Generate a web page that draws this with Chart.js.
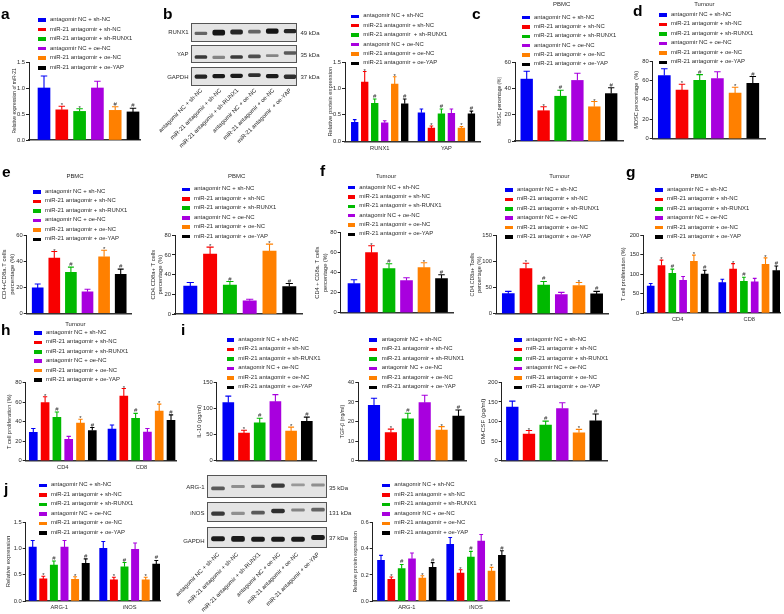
<!DOCTYPE html>
<html>
<head>
<meta charset="utf-8">
<title>miR-21 antagomir panels</title>
<script src="https://cdn.jsdelivr.net/npm/chart.js@4"></script>
<style>
  html, body { margin: 0; background: #fff; }
  #page { position: relative; width: 784px; height: 614px; overflow: hidden; filter: blur(0.45px); font-family: "Liberation Sans", Arial, sans-serif; color: #2a2a2a; }
  #page canvas { position: absolute; }
  .txt { position: absolute; white-space: pre; line-height: 1; }
  .swatch { position: absolute; }
  .blot-row { position: absolute; box-sizing: border-box; border: 1.4px solid #555; background: #e4e4e4; overflow: hidden; }
  .blot-row canvas { left: 0; top: 0; filter: blur(0.7px); }
</style>
</head>
<body>
<div id="page"></div>
<script>
/* ---------- shared labels and colours ---------- */
const seriesNames = ["antagomir NC + sh-NC", "miR-21 antagomir + sh-NC", "miR-21 antagomir + sh-RUNX1", "antagomir NC + oe-NC", "miR-21 antagomir + oe-NC", "miR-21 antagomir + oe-YAP"];
const seriesNamesB = ["antagomir NC + sh-NC", "miR-21 antagomir + sh-NC", "miR-21 antagomir  + sh-RUNX1", "antagomir NC + oe-NC", "miR-21 antagomir + oe-NC", "miR-21 antagomir + oe-YAP"];
const blotLanesB = ["antagomir NC + sh-NC", "miR-21 antagomir + sh-NC", "miR-21 antagomir + sh-RUNX1", "antagomir NC + oe-NC", "miR-21 antagomir + oe-NC", "miR-21 antagomir  + oe-YAP"];
const seriesColors = ["#0000f5", "#f80000", "#00b900", "#a800de", "#ff8000", "#000000"];
const marksA = ["", "*", "*", "", "#", "#"];
const marks = ["", "*", "#", "", "*", "#"];

/* ---------- values, one array per group ---------- */
const aValues = [[1.0, 0.58, 0.55, 1.0, 0.57, 0.54]];
const aErrors = [[1.23, 0.65, 0.60, 1.13, 0.64, 0.61]];
const aTicks = ["0.0", "0.5", "1.0", "1.5"];

const bCats = ["RUNX1", "YAP"];
const bValues = [[0.36, 1.12, 0.72, 0.35, 1.08, 0.71], [0.54, 0.25, 0.52, 0.53, 0.25, 0.52]];
const bErrors = [[0.41, 1.32, 0.80, 0.39, 1.22, 0.80], [0.61, 0.29, 0.61, 0.61, 0.28, 0.57]];
const bTicks = ["0.0", "0.5", "1.0", "1.5"];

const cValues = [[47, 23, 34, 46, 26, 36]];
const cErrors = [[53, 26, 38.5, 51.5, 30, 40.5]];
const cTicks = ["0", "20", "40", "60"];

const dValues = [[65, 50, 60, 62, 47, 57]];
const dErrors = [[72, 56, 66, 69, 53, 64]];
const dTicks = ["0", "20", "40", "60", "80"];

const e1Values = [[19.5, 42.5, 31.5, 16.5, 43.5, 30]];
const e1Errors = [[22.5, 47.5, 35.5, 18.5, 48.5, 34]];
const e1Ticks = ["0", "20", "40", "60"];

const e2Values = [[28.5, 61, 29.5, 13.5, 64, 28]];
const e2Errors = [[32, 68, 33, 15, 71, 31]];
const e2Ticks = ["0", "20", "40", "60", "80"];

const f1Values = [[29, 60, 44, 32, 45, 34]];
const f1Errors = [[33, 67, 49, 35, 50, 38]];
const f1Ticks = ["0", "20", "40", "60", "80"];

const f2Values = [[38.5, 87, 55, 37, 54, 38]];
const f2Errors = [[43, 97, 62, 41, 60, 43]];
const f2Ticks = ["0", "50", "100", "150"];

const gCats = ["CD4", "CD8"];
const gValues = [[69.5, 122, 102, 84, 133, 100], [78, 113, 81.5, 80, 125, 109]];
const gErrors = [[76, 136, 113, 94, 149, 110], [87, 127, 92, 89, 142, 121]];
const gTicks = ["0", "50", "100", "150", "200"];

const hCats = ["CD4", "CD8"];
const hValues = [[29, 59.5, 44.5, 22, 38.5, 31], [32.5, 66.3, 43.4, 29.4, 51, 41.4]];
const hErrors = [[33, 65.6, 50, 25, 42.5, 34], [36.6, 74, 48.5, 33, 58, 47]];
const hTicks = ["0", "20", "40", "60", "80"];

const i1Values = [[110.6, 52.8, 72, 112.5, 56.6, 75]];
const i1Errors = [[123, 58, 81, 126, 64, 83]];
const i1Ticks = ["0", "50", "100", "150"];

const i2Values = [[28.3, 14.4, 21.3, 29.6, 15.6, 22.8]];
const i2Errors = [[31.9, 16.1, 24.2, 33.4, 17.4, 25.9]];
const i2Ticks = ["0", "10", "20", "30", "40"];

const i3Values = [[137, 68, 91, 133, 71, 102]];
const i3Errors = [[152, 77, 101, 148, 80, 119]];
const i3Ticks = ["0", "50", "100", "150", "200"];

const j1Cats = ["ARG-1", "iNOS"];
const j1Values = [[1.025, 0.42, 0.68, 1.025, 0.41, 0.715], [1.0, 0.40, 0.65, 0.98, 0.40, 0.70]];
const j1Errors = [[1.15, 0.47, 0.76, 1.15, 0.46, 0.80], [1.13, 0.45, 0.73, 1.10, 0.45, 0.77]];
const j1Ticks = ["0.0", "0.5", "1.0", "1.5"];

const j2Cats = ["ARG-1", "iNOS"];
const j2Values = [[0.311, 0.166, 0.248, 0.324, 0.176, 0.258], [0.434, 0.214, 0.337, 0.46, 0.23, 0.35]];
const j2Errors = [[0.35, 0.184, 0.28, 0.368, 0.194, 0.294], [0.487, 0.24, 0.38, 0.51, 0.258, 0.385]];
const j2Ticks = ["0.0", "0.2", "0.4", "0.6"];

/* ---------- western blot band readings (row percent, top = 0) ---------- */
const runx1Pos = [49, 45, 42, 40, 38, 38], runx1Size = [14, 27, 22, 16, 24, 19], runx1Dark = [0.6, 0.98, 0.9, 0.6, 0.98, 0.9];
const yapPos = [58, 60, 58, 55, 51, 37], yapSize = [16, 14, 16, 16, 11, 14], yapDark = [0.8, 0.45, 0.8, 0.7, 0.45, 0.65];
const gapdhBPos = [45, 43, 41, 37, 43, 46], gapdhBSize = [19, 19, 19, 16, 19, 19], gapdhBDark = [0.9, 0.95, 0.95, 0.85, 0.95, 0.85];
const arg1Pos = [54, 46, 45, 42, 39, 39], arg1Size = [14, 10, 12, 15, 9, 11], arg1Dark = [0.65, 0.4, 0.55, 0.8, 0.35, 0.4];
const inosPos = [53, 52, 48, 40, 35, 33], inosSize = [18, 13, 15, 18, 12, 15], inosDark = [0.8, 0.4, 0.65, 0.85, 0.45, 0.6];
const gapdhJPos = [49, 49, 51, 51, 51, 43], gapdhJSize = [19, 23, 19, 19, 19, 19], gapdhJDark = [0.95, 0.95, 0.95, 0.95, 0.95, 0.95];

const page = document.getElementById("page");

function addText(str, x, y, opts = {}) {
  const el = document.createElement("div");
  el.className = "txt";
  el.textContent = str;
  el.style.left = x + "px";
  el.style.top = y + "px";
  el.style.fontSize = (opts.size || 5.95) + "px";
  if (opts.bold) { el.style.fontWeight = "bold"; el.style.color = "#000"; }
  const tx = opts.align === "center" ? "-50%" : opts.align === "right" ? "-100%" : "0";
  el.style.transform = `translate(${tx}, -50%)`;
  if (opts.rotate) {
    el.style.transformOrigin = "100% 50%";
    el.style.transform = `translate(-100%, -50%) rotate(${opts.rotate}deg)`;
  }
  page.appendChild(el);
}

// Legend sits outside Chart.js, built from the dataset list
function addLegend(chart, x, textX, y, step) {
  chart.data.datasets.forEach((ds, i) => {
    const sw = document.createElement("div");
    sw.className = "swatch";
    sw.style.cssText = `left:${x}px;top:${y + i * step - 1.8}px;width:7.7px;height:3.6px;background:${ds.backgroundColor}`;
    page.appendChild(sw);
    addText(ds.label, textX, y + i * step);
  });
}

// Upper error caps and the significance marks above them
const errorBars = {
  id: "errorBars",
  afterDatasetsDraw(chart) {
    const ctx = chart.ctx;
    const yScale = chart.scales.y;
    chart.data.datasets.forEach((ds, d) => {
      chart.getDatasetMeta(d).data.forEach((bar, g) => {
        const top = yScale.getPixelForValue(ds.errors[g]);
        const half = bar.width * 0.27;
        ctx.save();
        ctx.strokeStyle = ds.backgroundColor;
        ctx.lineWidth = 1.1;
        ctx.beginPath();
        ctx.moveTo(bar.x, bar.y);
        ctx.lineTo(bar.x, top);
        ctx.moveTo(bar.x - half, top);
        ctx.lineTo(bar.x + half, top);
        ctx.stroke();
        if (ds.marks[g]) {
          ctx.fillStyle = "#2a2a2a";
          ctx.font = '6px "Liberation Sans"';
          ctx.textAlign = "center";
          ctx.textBaseline = "alphabetic";
          ctx.fillText(ds.marks[g], bar.x, top - (ds.marks[g] === "*" ? -1 : 1));
        }
        ctx.restore();
      });
    });
  }
};

function addPanel(p) {
  const perGroup = 6 + (p.gap || 0);
  const left = Math.floor(p.titleX), top = Math.floor(p.yTop - 8);
  const w = Math.ceil(p.x1 + 2) - left, h = Math.ceil(p.y0 + 14) - top;
  const canvas = document.createElement("canvas");
  canvas.width = w; canvas.height = h;
  canvas.style.left = left + "px"; canvas.style.top = top + "px";
  page.appendChild(canvas);

  const names = p.names || seriesNames;
  const datasets = names.map((name, s) => ({
    label: name,
    backgroundColor: seriesColors[s],
    errors: p.errors.map(row => row[s]),
    marks: p.values.map(() => (p.marks || marks)[s]),
    data: p.values.map((row, g) => ({ x: g * perGroup + s, y: row[s] })),
    barThickness: p.barW,
    grouped: false
  }));
  const cats = p.cats || [];
  const chart = new Chart(canvas, {
    type: "bar",
    data: { datasets },
    plugins: [errorBars],
    options: {
      responsive: false,
      animation: false,
      layout: { padding: { top: p.yTop - top, right: left + w - p.x1, left: 0, bottom: 0 } },
      plugins: { legend: { display: false }, tooltip: { enabled: false } },
      scales: {
        x: {
          type: "linear",
          offset: false, // bar default would squeeze a linear axis
          min: (p.x0 - p.first) / p.step,
          max: (p.x1 - p.first) / p.step,
          grid: { display: false, offset: false, drawTicks: cats.length > 0, tickLength: 2.5, tickColor: "#222", tickWidth: 1 },
          border: { display: true, color: "#333", width: 1.4 },
          afterBuildTicks(axis) { if (cats.length) axis.ticks = cats.map((c, g) => ({ value: g * perGroup + 2.5 })); },
          afterFit(axis) { axis.height = top + h - p.y0; axis.paddingLeft = 0; axis.paddingRight = 0; },
          ticks: {
            display: cats.length > 0,
            maxRotation: 0, autoSkip: false, padding: 1, color: "#2a2a2a",
            font: { size: 5.7, family: "Liberation Sans" },
            callback: (v, i) => cats[i]
          }
        },
        y: {
          min: 0,
          max: Number(p.ticks[p.ticks.length - 1]),
          grid: { drawOnChartArea: false, tickLength: 3, tickColor: "#222", tickWidth: 1 },
          border: { display: true, color: "#222", width: 1 },
          afterFit(axis) { axis.width = p.x0 - left; },
          ticks: {
            stepSize: Number(p.ticks[1]),
            padding: 1, color: "#2a2a2a",
            font: { size: 5.8, family: "Liberation Sans" },
            callback: (v, i) => p.ticks[i]
          },
          title: { display: true, text: p.yTitle, color: "#2a2a2a", padding: 0, font: { size: p.titleSize, family: "Liberation Sans", lineHeight: 1.35 } }
        }
      }
    }
  });
  addLegend(chart, p.legX, p.legText, p.legY, p.legStep);
  if (p.heading) addText(p.heading, p.headX, p.headY, { align: "center" });
}

// One blot strip: lanes on a category axis, bands are floating bars
function addBlotRow(x, y, w, h, pos, size, dark, barW) {
  const row = document.createElement("div");
  row.className = "blot-row";
  row.style.cssText = `left:${x}px;top:${y}px;width:${w}px;height:${h}px`;
  const canvas = document.createElement("canvas");
  canvas.width = Math.ceil(w); canvas.height = Math.ceil(h);
  row.appendChild(canvas);
  page.appendChild(row);
  new Chart(canvas, {
    type: "bar",
    data: {
      labels: pos.map((v, i) => String(i + 1)),
      datasets: [{
        data: pos.map((v, i) => [v - size[i] / 2, v + size[i] / 2]),
        backgroundColor: dark.map(a => `rgba(15,15,15,${a})`),
        barThickness: barW,
        borderRadius: 2,
        borderSkipped: false
      }]
    },
    options: {
      responsive: false, animation: false,
      plugins: { legend: { display: false }, tooltip: { enabled: false } },
      scales: { x: { display: false }, y: { display: false, min: 0, max: 100, reverse: true } }
    }
  });
}

/* ---------- bar panels ---------- */
addPanel({ values: aValues, errors: aErrors, ticks: aTicks, marks: marksA, yTitle: "Relative expression of miR-21", titleSize: 4.9, titleX: 11, x0: 29, x1: 140, y0: 140, yTop: 62, first: 44, step: 17.8, barW: 12, legX: 38.3, legText: 50, legY: 20, legStep: 9.55 });
addPanel({ values: bValues, errors: bErrors, cats: bCats, ticks: bTicks, names: seriesNamesB, yTitle: "Relative protein expression", titleSize: 5.8, titleX: 326, x0: 345, x1: 480, y0: 141.3, yTop: 62, first: 354.7, step: 10, gap: 0.67, barW: 6.7, legX: 351.3, legText: 363.3, legY: 16.3, legStep: 9.4 });
addPanel({ values: cValues, errors: cErrors, ticks: cTicks, yTitle: "MDSC percentage (%)", titleSize: 4.9, titleX: 496, x0: 515, x1: 623, y0: 141, yTop: 62, first: 526.7, step: 16.9, barW: 11.7, legX: 522, legText: 534, legY: 17.7, legStep: 9.33, heading: "PBMC", headX: 561.7, headY: 4.5 });
addPanel({ values: dValues, errors: dErrors, ticks: dTicks, yTitle: "MDSC percentage  (%)", titleSize: 5.6, titleX: 633, x0: 652.7, x1: 765, y0: 138.7, yTop: 61, first: 664.3, step: 17.7, barW: 12, legX: 659, legText: 671, legY: 15, legStep: 9.47, heading: "Tumour", headX: 704.3, headY: 4.5 });
addPanel({ values: e1Values, errors: e1Errors, ticks: e1Ticks, yTitle: ["CD4+CD8a.T cells", "percentage (%)"], titleSize: 6, titleX: 0, x0: 26.7, x1: 131.7, y0: 313.3, yTop: 235.3, first: 37.7, step: 16.6, barW: 11, legX: 33, legText: 45, legY: 192, legStep: 9.47, heading: "PBMC", headX: 75, headY: 177.3 });
addPanel({ values: e2Values, errors: e2Errors, ticks: e2Ticks, yTitle: ["CD4.CD8a+ T cells", "percentage (%)"], titleSize: 5.8, titleX: 149, x0: 175, x1: 302.7, y0: 314, yTop: 235.3, first: 190.3, step: 19.8, barW: 13.3, legX: 182.3, legText: 194, legY: 189.3, legStep: 9.47, heading: "PBMC", headX: 236.7, headY: 177.3 });
addPanel({ values: f1Values, errors: f1Errors, ticks: f1Ticks, yTitle: ["CD4 + CD8a. T cells", "percentage (%)"], titleSize: 5.7, titleX: 314, x0: 340.7, x1: 453.3, y0: 312.7, yTop: 232.7, first: 354, step: 17.5, barW: 12, legX: 347.7, legText: 359.3, legY: 187.7, legStep: 9.33, heading: "Tumour", headX: 386, headY: 177 });
addPanel({ values: f2Values, errors: f2Errors, ticks: f2Ticks, yTitle: ["CD4.CD8a+ Tcells", "percentage (%)"], titleSize: 5.3, titleX: 469, x0: 496, x1: 608.3, y0: 313.7, yTop: 235.7, first: 508.3, step: 17.67, barW: 12, legX: 505, legText: 517, legY: 190, legStep: 9.4, heading: "Tumour", headX: 559.3, headY: 177 });
addPanel({ values: gValues, errors: gErrors, cats: gCats, ticks: gTicks, yTitle: "T cell proliferation (%)", titleSize: 5.5, titleX: 620, x0: 643.3, x1: 780, y0: 313, yTop: 235.3, first: 650.7, step: 10.8, gap: 0.63, barW: 7, legX: 655, legText: 667, legY: 190, legStep: 9.4, heading: "PBMC", headX: 699, headY: 177 });
addPanel({ values: hValues, errors: hErrors, cats: hCats, ticks: hTicks, yTitle: "T cell proliferation (%)", titleSize: 5.6, titleX: 6, x0: 25.7, x1: 176.7, y0: 460.7, yTop: 382.7, first: 33.3, step: 11.8, gap: 0.67, barW: 8, legX: 34.3, legText: 46, legY: 333, legStep: 9.4, heading: "Tumour", headX: 75.3, headY: 324.7 });
addPanel({ values: i1Values, errors: i1Errors, ticks: i1Ticks, yTitle: "IL-10 (pg/ml)", titleSize: 5.8, titleX: 195, x0: 216.7, x1: 316, y0: 460.7, yTop: 382, first: 228.3, step: 15.7, barW: 11, legX: 226.7, legText: 238.3, legY: 340, legStep: 9.47 });
addPanel({ values: i2Values, errors: i2Errors, ticks: i2Ticks, yTitle: "TGF-β (ng/ml)", titleSize: 5.3, titleX: 339, x0: 358.3, x1: 466.7, y0: 460.7, yTop: 382.3, first: 374, step: 16.9, barW: 11.5, legX: 369.3, legText: 381.7, legY: 340, legStep: 9.47 });
addPanel({ values: i3Values, errors: i3Errors, ticks: i3Ticks, yTitle: "GM-CSF (pg/ml)", titleSize: 6.2, titleX: 479, x0: 501.7, x1: 607.3, y0: 460.7, yTop: 382.3, first: 512.3, step: 16.67, barW: 11.7, legX: 514, legText: 526, legY: 340, legStep: 9.47 });
addPanel({ values: j1Values, errors: j1Errors, cats: j1Cats, ticks: j1Ticks, yTitle: "Relative expression", titleSize: 5.9, titleX: 4, x0: 25.7, x1: 160, y0: 601, yTop: 522, first: 32.7, step: 10.6, gap: 0.66, barW: 7.3, legX: 39, legText: 51, legY: 485.3, legStep: 9.53 });
addPanel({ values: j2Values, errors: j2Errors, cats: j2Cats, ticks: j2Ticks, yTitle: "Relative protein expression", titleSize: 5.1, titleX: 352, x0: 372.7, x1: 509.3, y0: 601, yTop: 522.7, first: 381, step: 10.33, gap: 0.7, barW: 7, legX: 382.3, legText: 394.3, legY: 485.3, legStep: 9.53 });

/* ---------- blots ---------- */
addBlotRow(190.7, 23.3, 106.6, 18.4, runx1Pos, runx1Size, runx1Dark, 12);
addBlotRow(190.7, 45, 106.6, 18.3, yapPos, yapSize, yapDark, 12);
addBlotRow(190.7, 67.3, 106.6, 18.7, gapdhBPos, gapdhBSize, gapdhBDark, 12);
addBlotRow(206.7, 475.3, 120, 22.4, arg1Pos, arg1Size, arg1Dark, 13);
addBlotRow(206.7, 501.7, 120, 20, inosPos, inosSize, inosDark, 13);
addBlotRow(206.7, 526.7, 120, 21.6, gapdhJPos, gapdhJSize, gapdhJDark, 13);

[["RUNX1", 32], ["YAP", 54], ["GAPDH", 76.5]].forEach(r => addText(r[0], 188.5, r[1], { align: "right", size: 6 }));
[["49 kDa", 33], ["35 kDa", 54.5], ["37 kDa", 76.5]].forEach(r => addText(r[0], 300.5, r[1], { size: 6 }));
[["ARG-1", 487], ["iNOS", 513], ["GAPDH", 541]].forEach(r => addText(r[0], 204.5, r[1], { align: "right", size: 6 }));
[["35 kDa", 488], ["131 kDa", 513], ["37 kDa", 538]].forEach(r => addText(r[0], 329, r[1], { size: 6 }));

const laneEndsB = [202, 221, 238, 256, 274, 291];
blotLanesB.forEach((name, i) => addText(name, laneEndsB[i], 90, { rotate: -45, size: 5.85 }));
const laneEndsJ = [219, 238, 260, 280, 298, 319];
seriesNames.forEach((name, i) => addText(name, laneEndsJ[i], 554, { rotate: -45, size: 5.85 }));

/* ---------- panel letters ---------- */
[["a", 1, 14], ["b", 163, 14], ["c", 472, 14], ["d", 633, 11], ["e", 2, 172], ["f", 320, 171], ["g", 626, 172], ["h", 1, 330], ["i", 181, 330], ["j", 4, 489]]
  .forEach(l => addText(l[0], l[1], l[2], { size: 15.5, bold: true }));
</script>
</body>
</html>
